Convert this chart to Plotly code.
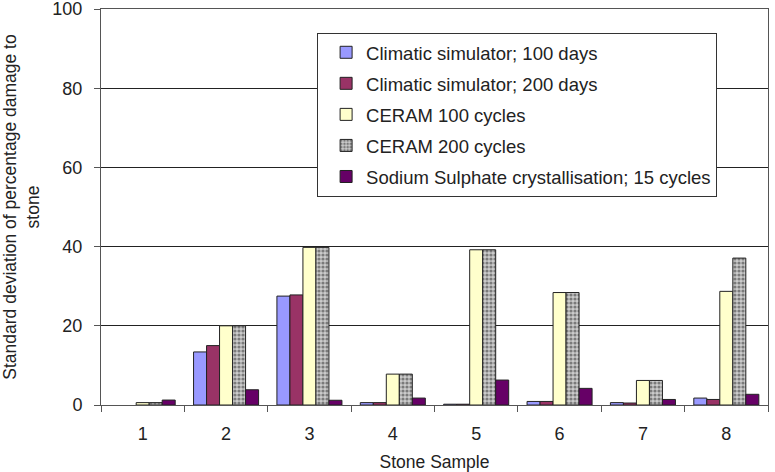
import plotly.graph_objects as go

categories = ["1", "2", "3", "4", "5", "6", "7", "8"]
series_names = [
    "Climatic simulator; 100 days",
    "Climatic simulator; 200 days",
    "CERAM 100 cycles",
    "CERAM 200 cycles",
    "Sodium Sulphate crystallisation; 15 cycles",
]
clim100 = [None, 13.4, 27.5, 0.6, 0.2, 0.9, 0.6, 1.75]
clim200 = [None, 15.0, 27.8, 0.6, 0.2, 0.9, 0.5, 1.4]
ceram100 = [0.6, 20.0, 39.8, 7.8, 39.2, 28.4, 6.2, 28.7]
ceram200 = [0.6, 20.0, 39.8, 7.8, 39.2, 28.4, 6.2, 37.1]
sodium = [1.25, 3.85, 1.2, 1.75, 6.3, 4.2, 1.4, 2.7]
y_ticks = [0, 20, 40, 60, 80, 100]

values = [clim100, clim200, ceram100, ceram200, sodium]
colors = ["#9999FF", "#993366", "#FFFFCC", "#C0C0C0", "#660066"]

fig = go.Figure()
for i, (name, vals, col) in enumerate(zip(series_names, values, colors)):
    marker = dict(color=col, line=dict(color="#222222", width=1))
    if i == 3:
        marker["pattern"] = dict(shape=".", fgcolor="#7a7a7a", bgcolor="#cccccc",
                                 size=4, solidity=0.5, fillmode="replace")
    fig.add_trace(go.Bar(x=categories, y=vals, name=name, marker=marker,
                         legendgroup=f"g{i}"))

font_family = "Liberation Sans, Arial, sans-serif"
FS = 18.5
fig.update_layout(
    width=775, height=472,
    margin=dict(l=101, r=7, t=9, b=67),
    paper_bgcolor="white", plot_bgcolor="white",
    barmode="group", bargap=0.22, bargroupgap=0,
    font=dict(family=font_family, size=FS, color="#222222"),
    legend=dict(
        x=0.324, y=0.94, xanchor="left", yanchor="top",
        bgcolor="white", bordercolor="#333333", borderwidth=1,
        font=dict(size=FS), tracegroupgap=4, traceorder="grouped",
        indentation=8,
    ),
    xaxis=dict(
        type="category", showline=True, linecolor="#555555", linewidth=1,
        mirror=True, ticks="outside", tickson="boundaries", ticklen=6,
        tickcolor="#555555", showgrid=False, ticklabelstandoff=12,
        automargin=False,
        title=dict(text="Stone Sample", font=dict(size=FS - 1), standoff=13),
        tickfont=dict(size=FS - 0.5),
    ),
    yaxis=dict(
        range=[0, 100], tickvals=y_ticks, showline=True, linecolor="#555555",
        linewidth=1, mirror=True, ticks="outside", ticklen=6, tickcolor="#555555",
        showgrid=True, gridcolor="#222222", gridwidth=1, zeroline=False,
        ticklabeloverflow="allow", ticklabelstandoff=8, automargin=False,
        title=dict(text="Standard deviation of percentage damage to<br>stone",
                   font=dict(size=FS - 1), standoff=10),
        tickfont=dict(size=FS - 0.5),
    ),
)

fig.write_html("out.html")
